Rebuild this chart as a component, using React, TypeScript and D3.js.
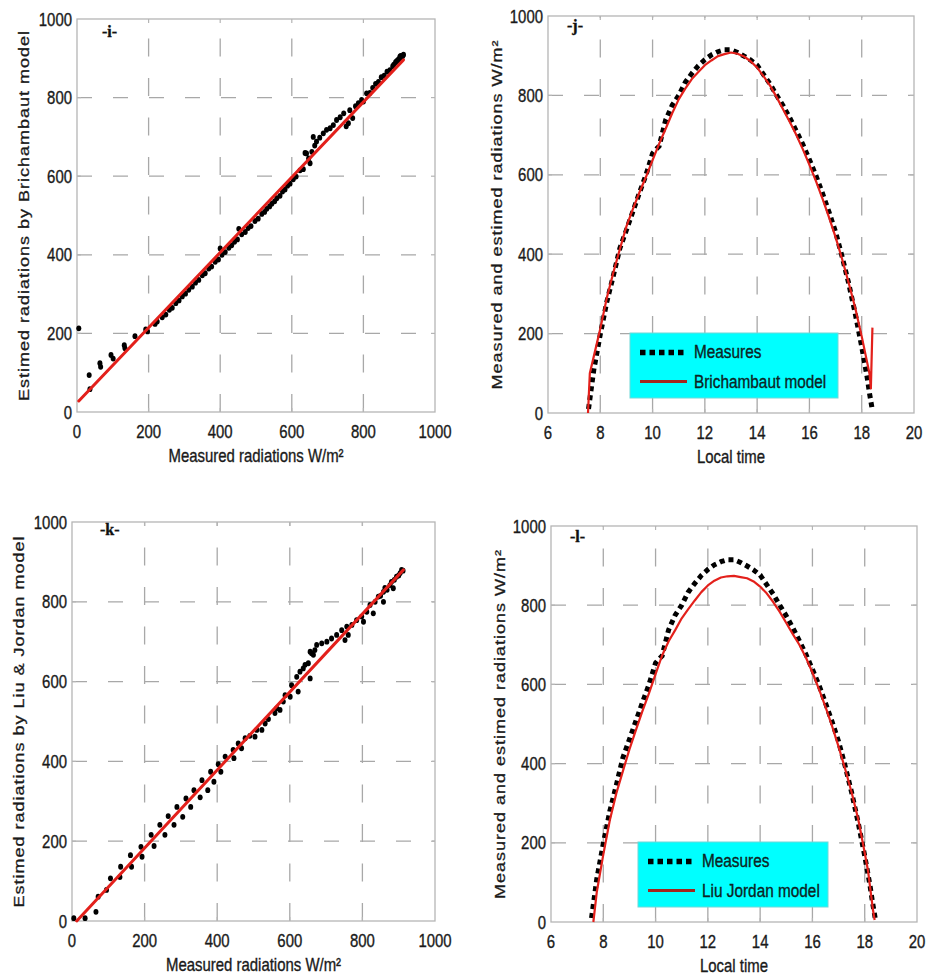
import React from 'react';
import * as d3 from 'd3';

const SANS = '"Liberation Sans", Arial, Helvetica, sans-serif';
const SERIF = '"Liberation Serif", "Times New Roman", serif';
const RED = '#e3201b';
const GRID = '#a8a8a8';
const FRAME = '#b5b5b5';
const INK = '#1a1a1a';

// ---------------- data ----------------
const radTicks = [0, 200, 400, 600, 800, 1000];
const timeTicks = [6, 8, 10, 12, 14, 16, 18, 20];

// panel -i- : measured vs Brichambaut estimate
const measuredI = [5, 34, 36, 64, 66, 95, 101, 132, 134, 162, 192, 197, 218, 224, 238, 248, 258, 266, 276, 285, 294, 303, 312, 322, 331, 340, 350, 358, 368, 376, 386, 395, 400, 405, 414, 424, 432, 440, 448, 452, 460, 470, 478, 486, 497, 506, 516, 524, 530, 538, 544, 552, 558, 567, 574, 581, 588, 595, 604, 612, 623, 632, 637, 641, 647, 651, 656, 660, 664, 669, 678, 688, 697, 707, 716, 725, 735, 745, 752, 758, 762, 770, 778, 786, 795, 800, 809, 818, 826, 834, 842, 850, 858, 866, 874, 882, 890, 896, 902, 906, 910, 885, 893, 899, 904, 908, 912];
const estimatedI = [213, 94, 58, 124, 115, 145, 136, 170, 162, 193, 210, 205, 224, 230, 241, 248, 260, 265, 277, 284, 294, 301, 311, 319, 329, 336, 348, 353, 365, 370, 382, 388, 416, 400, 407, 418, 424, 433, 439, 466, 452, 458, 468, 473, 486, 492, 504, 509, 517, 523, 530, 536, 544, 550, 561, 566, 576, 581, 592, 599, 615, 618, 659, 658, 645, 633, 662, 700, 678, 688, 698, 709, 718, 722, 730, 743, 750, 760, 727, 735, 768, 748, 778, 786, 794, 790, 811, 812, 825, 835, 840, 852, 856, 866, 870, 880, 890, 895, 904, 900, 907, 884, 893, 898, 906, 903, 909];
const fitIMeasured = [5, 912];
const fitIEstimated = [28, 896];

// panel -k- : measured vs Liu & Jordan estimate
const measuredK = [5, 36, 66, 72, 95, 106, 132, 134, 161, 164, 190, 193, 218, 226, 242, 256, 265, 281, 289, 305, 314, 327, 336, 353, 358, 374, 382, 391, 403, 410, 422, 446, 444, 458, 467, 477, 490, 504, 509, 523, 532, 541, 559, 564, 573, 582, 587, 601, 605, 619, 623, 628, 637, 642, 651, 656, 656, 660, 665, 669, 674, 688, 702, 715, 729, 743, 752, 757, 761, 771, 784, 798, 803, 812, 821, 830, 835, 844, 850, 858, 858, 862, 868, 876, 880, 885, 888, 894, 900, 904, 908, 912];
const estimatedK = [7, 7, 23, 61, 78, 107, 110, 136, 165, 136, 186, 161, 216, 188, 241, 216, 263, 241, 286, 261, 307, 286, 328, 310, 353, 328, 374, 349, 393, 374, 412, 408, 429, 445, 433, 458, 464, 462, 479, 479, 495, 506, 521, 533, 529, 550, 566, 562, 591, 612, 575, 625, 633, 642, 646, 608, 675, 671, 667, 679, 692, 696, 700, 708, 717, 729, 704, 738, 717, 742, 754, 763, 750, 775, 792, 771, 800, 813, 815, 825, 800, 835, 830, 842, 850, 834, 855, 863, 866, 872, 880, 878];
const fitKMeasured = [13, 913];
const fitKEstimated = [0, 880];

// panels -j- and -l- : daily course (local time)
const timeMeasures = [7.55, 7.75, 8.0, 8.25, 8.5, 8.75, 9.0, 9.25, 9.5, 9.75, 10.0, 10.1, 10.25, 10.5, 10.75, 11.0, 11.25, 11.5, 11.75, 12.0, 12.25, 12.5, 12.75, 13.0, 13.25, 13.5, 13.75, 14.0, 14.25, 14.5, 14.75, 15.0, 15.25, 15.5, 15.75, 16.0, 16.25, 16.5, 16.75, 17.0, 17.25, 17.5, 17.75, 18.0, 18.2, 18.3, 18.4];
const measures = [10, 108, 198, 280, 346, 415, 461, 508, 555, 600, 654, 662, 672, 738, 775, 800, 833, 855, 875, 890, 902, 910, 915, 915, 908, 899, 889, 876, 852, 828, 800, 773, 743, 710, 676, 638, 598, 553, 506, 456, 394, 327, 251, 167, 93, 49, 10];

const timeBrichambaut = [7.53, 7.6, 7.75, 8.0, 8.25, 8.5, 8.75, 9.0, 9.25, 9.5, 9.75, 10.0, 10.25, 10.5, 10.75, 11.0, 11.25, 11.5, 11.75, 12.0, 12.25, 12.5, 12.75, 13.0, 13.25, 13.5, 13.75, 14.0, 14.25, 14.5, 14.75, 15.0, 15.25, 15.5, 15.75, 16.0, 16.25, 16.5, 16.75, 17.0, 17.25, 17.5, 17.75, 18.0, 18.2, 18.3, 18.35, 18.41];
const brichambaut = [0, 100, 142, 212, 290, 354, 413, 470, 514, 556, 595, 637, 678, 716, 755, 790, 817, 841, 859, 876, 888, 899, 904, 908, 905, 898, 886, 870, 848, 824, 795, 764, 733, 700, 664, 625, 584, 540, 493, 443, 388, 328, 265, 193, 130, 98, 62, 215];

const timeLiuJordan = [7.62, 7.75, 8.0, 8.25, 8.5, 8.75, 9.0, 9.25, 9.5, 9.75, 10.0, 10.25, 10.5, 10.75, 11.0, 11.25, 11.5, 11.75, 12.0, 12.25, 12.5, 12.75, 13.0, 13.25, 13.5, 13.75, 14.0, 14.25, 14.5, 14.75, 15.0, 15.25, 15.5, 15.75, 16.0, 16.25, 16.5, 16.75, 17.0, 17.25, 17.5, 17.75, 18.0, 18.13, 18.25, 18.32, 18.38];
const liuJordan = [0, 75, 170, 257, 325, 381, 436, 485, 533, 578, 626, 673, 709, 737, 767, 790, 812, 833, 850, 862, 870, 873, 874, 871, 868, 860, 847, 830, 808, 783, 755, 727, 700, 668, 630, 588, 543, 495, 443, 387, 327, 260, 175, 128, 65, 29, 5];

// ---------------- helpers ----------------
type Box = { left: number; right: number; top: number; bottom: number };

function Txt(props: any) {
  const { x, y, size = 18, sx = 0.83, anchor = 'start', rotate = false, spacing = 0, weight = 'normal', family = SANS, fill = INK, children } = props;
  const tf = rotate
    ? `translate(${x},${y}) rotate(-90) scale(1,${sx})`
    : `translate(${x},${y}) scale(${sx},1)`;
  return (
    <text transform={tf} fontSize={size} textAnchor={anchor} letterSpacing={spacing} fontWeight={weight} fontFamily={family}
      fill={fill} stroke={fill} strokeWidth={0.35}>
      {children}
    </text>
  );
}

function Axes({ box, xs, ys, xTicks, yTicks, xLabel, yLabel, yLabelX, tag, tagX, tagY }: any) {
  const gx = xTicks.slice(1, -1);
  const gy = yTicks.slice(1, -1);
  const cx = (box.left + box.right) / 2;
  const cy = (box.top + box.bottom) / 2;
  const tl = 4;
  return (
    <g>
      {gy.map((v: number) => (
        <line key={'h' + v} x1={box.left} x2={box.right} y1={ys(v)} y2={ys(v)} stroke={GRID} strokeWidth={1.3} strokeDasharray="15,21" />
      ))}
      {gx.map((v: number) => (
        <line key={'v' + v} x1={xs(v)} x2={xs(v)} y1={box.bottom} y2={box.top} stroke={GRID} strokeWidth={1.3} strokeDasharray="18,21.5" />
      ))}
      {gx.map((v: number) => (
        <g key={'tx' + v}>
          <line x1={xs(v)} x2={xs(v)} y1={box.bottom} y2={box.bottom - tl} stroke={FRAME} strokeWidth={1.2} />
          <line x1={xs(v)} x2={xs(v)} y1={box.top} y2={box.top + tl} stroke={FRAME} strokeWidth={1.2} />
        </g>
      ))}
      {gy.map((v: number) => (
        <g key={'ty' + v}>
          <line x1={box.left} x2={box.left + tl} y1={ys(v)} y2={ys(v)} stroke={FRAME} strokeWidth={1.2} />
          <line x1={box.right} x2={box.right - tl} y1={ys(v)} y2={ys(v)} stroke={FRAME} strokeWidth={1.2} />
        </g>
      ))}
      <rect x={box.left} y={box.top} width={box.right - box.left} height={box.bottom - box.top} fill="none" stroke={FRAME} strokeWidth={1.3} />
      {xTicks.map((v: number) => (
        <Txt key={'lx' + v} x={xs(v)} y={box.bottom + 26} anchor="middle">{String(v)}</Txt>
      ))}
      {yTicks.map((v: number) => (
        <Txt key={'ly' + v} x={box.left - 5} y={ys(v) + 6.5} anchor="end">{String(v)}</Txt>
      ))}
      <Txt x={cx} y={box.bottom + 50} anchor="middle">{xLabel}</Txt>
      <Txt x={yLabelX} y={cy} anchor="middle" rotate spacing={1}>{yLabel}</Txt>
      <Txt x={tagX} y={tagY} size={16} sx={1} weight="bold" family={SERIF} fill="#111">{tag}</Txt>
    </g>
  );
}

function ScatterPanel({ box, mx, ey, fx, fy, yLabel, yLabelX, tag, tagX, tagY }: any) {
  const xs = d3.scaleLinear().domain([0, 1000]).range([box.left, box.right]);
  const ys = d3.scaleLinear().domain([0, 1000]).range([box.bottom, box.top]);
  const line = d3.line<number>().x((_, i) => xs(fx[i])).y((d) => ys(d));
  return (
    <g>
      <Axes box={box} xs={xs} ys={ys} xTicks={radTicks} yTicks={radTicks} xLabel="Measured radiations W/m²" yLabel={yLabel} yLabelX={yLabelX} tag={tag} tagX={tagX} tagY={tagY} />
      {mx.map((m: number, i: number) => (
        <ellipse key={i} cx={xs(m)} cy={ys(ey[i])} rx={2.5} ry={2.9} fill="#000" />
      ))}
      <path d={line(fy) || ''} fill="none" stroke={RED} strokeWidth={3} strokeLinecap="round" />
    </g>
  );
}

function TimePanel({ box, modelT, model, modelName, legend, tag, tagX, tagY }: any) {
  const xs = d3.scaleLinear().domain([6, 20]).range([box.left, box.right]);
  const ys = d3.scaleLinear().domain([0, 1000]).range([box.bottom, box.top]);
  const mLine = d3.line<number>().x((_, i) => xs(timeMeasures[i])).y((d) => ys(d));
  const rLine = d3.line<number>().x((_, i) => xs(modelT[i])).y((d) => ys(d));
  const L = legend;
  return (
    <g>
      <Axes box={box} xs={xs} ys={ys} xTicks={timeTicks} yTicks={radTicks} xLabel="Local time" yLabel="Measured and estimed radiations W/m²" yLabelX={box.left - 46} tag={tag} tagX={tagX} tagY={tagY} />
      <path d={mLine(measures) || ''} fill="none" stroke="#000" strokeWidth={5} strokeDasharray="5,4" />
      <path d={rLine(model) || ''} fill="none" stroke={RED} strokeWidth={2.2} strokeLinejoin="round" />
      <rect x={L.x} y={L.y} width={L.w} height={L.h} fill="#00ffff" stroke="#6fd8d8" strokeWidth={1} />
      <line x1={L.x + 10} x2={L.x + 57} y1={L.y + 19.5} y2={L.y + 19.5} stroke="#000" strokeWidth={5.5} strokeDasharray="5.5,4" />
      <line x1={L.x + 10} x2={L.x + 57} y1={L.y + 48.5} y2={L.y + 48.5} stroke="#a3261e" strokeWidth={3.2} />
      <Txt x={L.x + 64} y={L.y + 25} size={18.5} fill="#0d2424">Measures</Txt>
      <Txt x={L.x + 64} y={L.y + 55} size={18.5} fill="#0d2424">{modelName}</Txt>
    </g>
  );
}

export default function App() {
  const boxI: Box = { left: 77, right: 435, top: 19, bottom: 412 };
  const boxJ: Box = { left: 548, right: 914, top: 16, bottom: 413 };
  const boxK: Box = { left: 72, right: 435, top: 522, bottom: 921 };
  const boxL: Box = { left: 551, right: 917, top: 526, bottom: 922 };
  return (
    <svg width={927} height={978} viewBox="0 0 927 978" style={{ position: 'absolute', left: 0, top: 0, background: '#fff' }}>
      <rect x={0} y={0} width={927} height={978} fill="#fff" />
      <ScatterPanel box={boxI} mx={measuredI} ey={estimatedI} fx={fitIMeasured} fy={fitIEstimated}
        yLabel="Estimed radiations by Brichambaut model" yLabelX={28.5} tag="-i-" tagX={102} tagY={37} />
      <TimePanel box={boxJ} modelT={timeBrichambaut} model={brichambaut} modelName="Brichambaut model"
        legend={{ x: 630, y: 333, w: 208, h: 65 }} tag="-j-" tagX={567} tagY={31} />
      <ScatterPanel box={boxK} mx={measuredK} ey={estimatedK} fx={fitKMeasured} fy={fitKEstimated}
        yLabel="Estimed radiations by Liu & Jordan model" yLabelX={23.5} tag="-k-" tagX={100} tagY={535} />
      <TimePanel box={boxL} modelT={timeLiuJordan} model={liuJordan} modelName="Liu Jordan model"
        legend={{ x: 638, y: 842, w: 190, h: 65 }} tag="-l-" tagX={570} tagY={542} />
    </svg>
  );
}
